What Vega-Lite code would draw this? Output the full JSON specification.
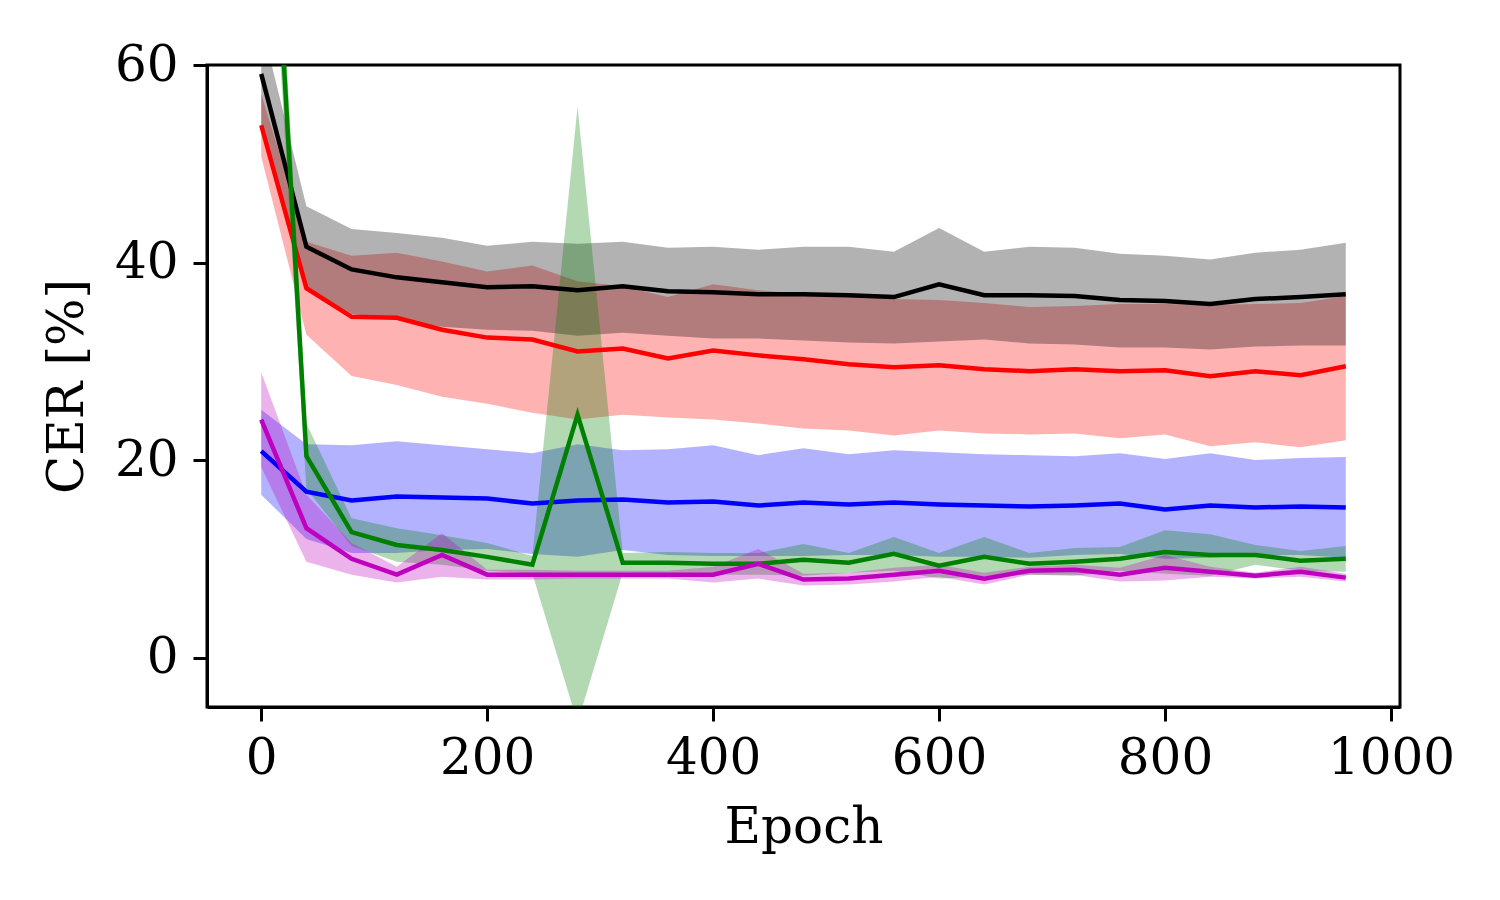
{
  "$schema": "https://vega.github.io/schema/vega-lite/v6.json",
  "width": 1193,
  "height": 642,
  "autosize": {"type": "none"},
  "padding": {"left": 207, "top": 65, "right": 100, "bottom": 193},
  "background": "white",
  "config": {
    "view": {"stroke": "black", "strokeWidth": 3},
    "axis": {
      "domain": true, "domainColor": "black", "domainWidth": 3,
      "ticks": true, "tickColor": "black", "tickWidth": 3, "tickSize": 14,
      "labelFont": "DejaVu Serif", "labelFontSize": 50, "labelColor": "black",
      "titleFont": "DejaVu Serif", "titleFontSize": 50, "titleFontWeight": "normal", "titleColor": "black",
      "grid": false, "labelFlush": false, "labelOverlap": false, "zindex": 1
    },
    "axisX": {"labelPadding": 12, "titlePadding": 19},
    "axisY": {"labelPadding": 15, "titlePadding": 22}
  },
  "data": {"values": [
    {"s":"k","epoch":0,"mean":59.1,"lo":53.9,"hi":64.3},
    {"s":"k","epoch":40,"mean":41.6,"lo":37.3,"hi":45.7},
    {"s":"k","epoch":80,"mean":39.3,"lo":34.8,"hi":43.4},
    {"s":"k","epoch":120,"mean":38.5,"lo":34.2,"hi":43.0},
    {"s":"k","epoch":160,"mean":38.0,"lo":33.5,"hi":42.5},
    {"s":"k","epoch":200,"mean":37.5,"lo":33.2,"hi":41.7},
    {"s":"k","epoch":240,"mean":37.6,"lo":33.1,"hi":42.1},
    {"s":"k","epoch":280,"mean":37.2,"lo":32.6,"hi":41.9},
    {"s":"k","epoch":320,"mean":37.6,"lo":32.9,"hi":42.1},
    {"s":"k","epoch":360,"mean":37.1,"lo":32.6,"hi":41.5},
    {"s":"k","epoch":400,"mean":37.0,"lo":32.3,"hi":41.6},
    {"s":"k","epoch":440,"mean":36.8,"lo":32.3,"hi":41.3},
    {"s":"k","epoch":480,"mean":36.8,"lo":32.1,"hi":41.6},
    {"s":"k","epoch":520,"mean":36.7,"lo":31.9,"hi":41.6},
    {"s":"k","epoch":560,"mean":36.5,"lo":31.8,"hi":41.1},
    {"s":"k","epoch":600,"mean":37.8,"lo":32.0,"hi":43.5},
    {"s":"k","epoch":640,"mean":36.7,"lo":32.2,"hi":41.1},
    {"s":"k","epoch":680,"mean":36.7,"lo":31.8,"hi":41.6},
    {"s":"k","epoch":720,"mean":36.6,"lo":31.7,"hi":41.5},
    {"s":"k","epoch":760,"mean":36.2,"lo":31.4,"hi":40.9},
    {"s":"k","epoch":800,"mean":36.1,"lo":31.4,"hi":40.7},
    {"s":"k","epoch":840,"mean":35.8,"lo":31.2,"hi":40.3},
    {"s":"k","epoch":880,"mean":36.3,"lo":31.5,"hi":41.0},
    {"s":"k","epoch":920,"mean":36.5,"lo":31.6,"hi":41.3},
    {"s":"k","epoch":960,"mean":36.8,"lo":31.6,"hi":42.0},
    {"s":"r","epoch":0,"mean":53.9,"lo":50.7,"hi":57.1},
    {"s":"r","epoch":40,"mean":37.4,"lo":32.7,"hi":42.1},
    {"s":"r","epoch":80,"mean":34.5,"lo":28.5,"hi":40.7},
    {"s":"r","epoch":120,"mean":34.4,"lo":27.6,"hi":41.0},
    {"s":"r","epoch":160,"mean":33.2,"lo":26.4,"hi":40.1},
    {"s":"r","epoch":200,"mean":32.4,"lo":25.7,"hi":39.1},
    {"s":"r","epoch":240,"mean":32.2,"lo":24.8,"hi":39.7},
    {"s":"r","epoch":280,"mean":31.0,"lo":24.1,"hi":38.1},
    {"s":"r","epoch":320,"mean":31.3,"lo":24.6,"hi":37.6},
    {"s":"r","epoch":360,"mean":30.3,"lo":24.3,"hi":36.5},
    {"s":"r","epoch":400,"mean":31.1,"lo":24.1,"hi":37.8},
    {"s":"r","epoch":440,"mean":30.6,"lo":23.7,"hi":37.2},
    {"s":"r","epoch":480,"mean":30.2,"lo":23.2,"hi":36.8},
    {"s":"r","epoch":520,"mean":29.7,"lo":23.0,"hi":36.6},
    {"s":"r","epoch":560,"mean":29.4,"lo":22.5,"hi":36.3},
    {"s":"r","epoch":600,"mean":29.6,"lo":23.0,"hi":36.2},
    {"s":"r","epoch":640,"mean":29.2,"lo":22.7,"hi":35.9},
    {"s":"r","epoch":680,"mean":29.0,"lo":22.6,"hi":35.5},
    {"s":"r","epoch":720,"mean":29.2,"lo":22.7,"hi":35.6},
    {"s":"r","epoch":760,"mean":29.0,"lo":22.2,"hi":35.8},
    {"s":"r","epoch":800,"mean":29.1,"lo":22.6,"hi":35.8},
    {"s":"r","epoch":840,"mean":28.5,"lo":21.4,"hi":35.7},
    {"s":"r","epoch":880,"mean":29.0,"lo":21.8,"hi":35.8},
    {"s":"r","epoch":920,"mean":28.6,"lo":21.3,"hi":35.9},
    {"s":"r","epoch":960,"mean":29.5,"lo":22.0,"hi":36.6},
    {"s":"b","epoch":0,"mean":20.9,"lo":16.5,"hi":25.1},
    {"s":"b","epoch":40,"mean":16.8,"lo":12.0,"hi":21.6},
    {"s":"b","epoch":80,"mean":15.9,"lo":10.6,"hi":21.5},
    {"s":"b","epoch":120,"mean":16.3,"lo":10.6,"hi":21.9},
    {"s":"b","epoch":160,"mean":16.2,"lo":10.9,"hi":21.5},
    {"s":"b","epoch":200,"mean":16.1,"lo":11.0,"hi":21.1},
    {"s":"b","epoch":240,"mean":15.6,"lo":10.5,"hi":20.7},
    {"s":"b","epoch":280,"mean":15.9,"lo":10.2,"hi":21.6},
    {"s":"b","epoch":320,"mean":16.0,"lo":10.9,"hi":21.0},
    {"s":"b","epoch":360,"mean":15.7,"lo":10.4,"hi":21.1},
    {"s":"b","epoch":400,"mean":15.8,"lo":10.3,"hi":21.5},
    {"s":"b","epoch":440,"mean":15.4,"lo":10.3,"hi":20.5},
    {"s":"b","epoch":480,"mean":15.7,"lo":10.3,"hi":21.2},
    {"s":"b","epoch":520,"mean":15.5,"lo":10.4,"hi":20.6},
    {"s":"b","epoch":560,"mean":15.7,"lo":10.4,"hi":21.0},
    {"s":"b","epoch":600,"mean":15.5,"lo":10.2,"hi":20.8},
    {"s":"b","epoch":640,"mean":15.4,"lo":10.2,"hi":20.6},
    {"s":"b","epoch":680,"mean":15.3,"lo":10.1,"hi":20.5},
    {"s":"b","epoch":720,"mean":15.4,"lo":10.4,"hi":20.4},
    {"s":"b","epoch":760,"mean":15.6,"lo":10.5,"hi":20.7},
    {"s":"b","epoch":800,"mean":15.0,"lo":10.0,"hi":20.1},
    {"s":"b","epoch":840,"mean":15.4,"lo":10.1,"hi":20.7},
    {"s":"b","epoch":880,"mean":15.2,"lo":10.4,"hi":20.0},
    {"s":"b","epoch":920,"mean":15.3,"lo":10.4,"hi":20.2},
    {"s":"b","epoch":960,"mean":15.2,"lo":10.1,"hi":20.3},
    {"s":"g","epoch":0,"mean":100.0,"lo":92.0,"hi":108.0},
    {"s":"g","epoch":40,"mean":20.4,"lo":17.1,"hi":23.7},
    {"s":"g","epoch":80,"mean":12.7,"lo":11.3,"hi":14.1},
    {"s":"g","epoch":120,"mean":11.4,"lo":9.7,"hi":13.1},
    {"s":"g","epoch":160,"mean":10.9,"lo":9.4,"hi":12.4},
    {"s":"g","epoch":200,"mean":10.2,"lo":8.8,"hi":11.6},
    {"s":"g","epoch":240,"mean":9.4,"lo":8.5,"hi":10.3},
    {"s":"g","epoch":280,"mean":24.6,"lo":-6.6,"hi":55.8},
    {"s":"g","epoch":320,"mean":9.6,"lo":8.6,"hi":10.6},
    {"s":"g","epoch":360,"mean":9.6,"lo":8.5,"hi":10.7},
    {"s":"g","epoch":400,"mean":9.5,"lo":8.4,"hi":10.6},
    {"s":"g","epoch":440,"mean":9.5,"lo":8.4,"hi":10.6},
    {"s":"g","epoch":480,"mean":9.9,"lo":8.3,"hi":11.5},
    {"s":"g","epoch":520,"mean":9.6,"lo":8.6,"hi":10.6},
    {"s":"g","epoch":560,"mean":10.5,"lo":8.8,"hi":12.2},
    {"s":"g","epoch":600,"mean":9.3,"lo":8.0,"hi":10.6},
    {"s":"g","epoch":640,"mean":10.2,"lo":8.2,"hi":12.2},
    {"s":"g","epoch":680,"mean":9.5,"lo":8.4,"hi":10.6},
    {"s":"g","epoch":720,"mean":9.7,"lo":8.3,"hi":11.1},
    {"s":"g","epoch":760,"mean":10.0,"lo":8.8,"hi":11.2},
    {"s":"g","epoch":800,"mean":10.7,"lo":8.5,"hi":12.9},
    {"s":"g","epoch":840,"mean":10.4,"lo":8.3,"hi":12.5},
    {"s":"g","epoch":880,"mean":10.4,"lo":9.4,"hi":11.4},
    {"s":"g","epoch":920,"mean":9.8,"lo":8.8,"hi":10.8},
    {"s":"g","epoch":960,"mean":10.0,"lo":8.7,"hi":11.3},
    {"s":"m","epoch":0,"mean":24.1,"lo":19.3,"hi":28.9},
    {"s":"m","epoch":40,"mean":13.1,"lo":9.7,"hi":16.5},
    {"s":"m","epoch":80,"mean":10.0,"lo":8.4,"hi":11.6},
    {"s":"m","epoch":120,"mean":8.4,"lo":7.6,"hi":9.2},
    {"s":"m","epoch":160,"mean":10.4,"lo":8.2,"hi":12.6},
    {"s":"m","epoch":200,"mean":8.4,"lo":7.9,"hi":8.9},
    {"s":"m","epoch":240,"mean":8.4,"lo":7.9,"hi":8.9},
    {"s":"m","epoch":280,"mean":8.4,"lo":8.0,"hi":8.8},
    {"s":"m","epoch":320,"mean":8.4,"lo":8.0,"hi":8.8},
    {"s":"m","epoch":360,"mean":8.4,"lo":8.0,"hi":8.8},
    {"s":"m","epoch":400,"mean":8.4,"lo":7.6,"hi":9.2},
    {"s":"m","epoch":440,"mean":9.5,"lo":8.0,"hi":11.0},
    {"s":"m","epoch":480,"mean":7.9,"lo":7.3,"hi":8.5},
    {"s":"m","epoch":520,"mean":8.0,"lo":7.4,"hi":8.6},
    {"s":"m","epoch":560,"mean":8.4,"lo":7.7,"hi":9.1},
    {"s":"m","epoch":600,"mean":8.8,"lo":8.2,"hi":9.4},
    {"s":"m","epoch":640,"mean":8.0,"lo":7.4,"hi":8.6},
    {"s":"m","epoch":680,"mean":8.8,"lo":8.4,"hi":9.2},
    {"s":"m","epoch":720,"mean":8.9,"lo":8.4,"hi":9.4},
    {"s":"m","epoch":760,"mean":8.4,"lo":7.7,"hi":9.1},
    {"s":"m","epoch":800,"mean":9.1,"lo":7.8,"hi":10.4},
    {"s":"m","epoch":840,"mean":8.7,"lo":8.2,"hi":9.2},
    {"s":"m","epoch":880,"mean":8.3,"lo":8.0,"hi":8.6},
    {"s":"m","epoch":920,"mean":8.7,"lo":8.2,"hi":9.2},
    {"s":"m","epoch":960,"mean":8.1,"lo":7.7,"hi":8.5}
  ]},
  "encoding": {
    "x": {"field": "epoch", "type": "quantitative",
      "scale": {"domain": [-48, 1008], "nice": false, "zero": false},
      "axis": {"values": [0, 200, 400, 600, 800, 1000], "format": "d", "title": "Epoch"}}
  },
  "layer": [
    {"transform": [{"filter": "datum.s === 'r'"}], "mark": {"type": "area", "color": "#ff0000", "opacity": 0.3, "clip": true},
     "encoding": {"y": {"field": "lo", "type": "quantitative", "scale": {"domain": [-5, 60], "nice": false, "zero": false}, "axis": {"values": [0, 20, 40, 60], "format": "d", "title": "CER [%]"}}, "y2": {"field": "hi"}}},
    {"transform": [{"filter": "datum.s === 'k'"}], "mark": {"type": "area", "color": "#000000", "opacity": 0.3, "clip": true},
     "encoding": {"y": {"field": "lo", "type": "quantitative", "axis": {"values": [0, 20, 40, 60], "format": "d", "title": "CER [%]"}}, "y2": {"field": "hi"}}},
    {"transform": [{"filter": "datum.s === 'b'"}], "mark": {"type": "area", "color": "#0000ff", "opacity": 0.3, "clip": true},
     "encoding": {"y": {"field": "lo", "type": "quantitative", "axis": {"values": [0, 20, 40, 60], "format": "d", "title": "CER [%]"}}, "y2": {"field": "hi"}}},
    {"transform": [{"filter": "datum.s === 'g'"}], "mark": {"type": "area", "color": "#008000", "opacity": 0.3, "clip": true},
     "encoding": {"y": {"field": "lo", "type": "quantitative", "axis": {"values": [0, 20, 40, 60], "format": "d", "title": "CER [%]"}}, "y2": {"field": "hi"}}},
    {"transform": [{"filter": "datum.s === 'm'"}], "mark": {"type": "area", "color": "#bf00bf", "opacity": 0.3, "clip": true},
     "encoding": {"y": {"field": "lo", "type": "quantitative", "axis": {"values": [0, 20, 40, 60], "format": "d", "title": "CER [%]"}}, "y2": {"field": "hi"}}},
    {"transform": [{"filter": "datum.s === 'k'"}], "mark": {"type": "line", "color": "#000000", "strokeWidth": 4.5, "clip": true},
     "encoding": {"y": {"field": "mean", "type": "quantitative", "axis": {"values": [0, 20, 40, 60], "format": "d", "title": "CER [%]"}}}},
    {"transform": [{"filter": "datum.s === 'r'"}], "mark": {"type": "line", "color": "#ff0000", "strokeWidth": 4.5, "clip": true},
     "encoding": {"y": {"field": "mean", "type": "quantitative", "axis": {"values": [0, 20, 40, 60], "format": "d", "title": "CER [%]"}}}},
    {"transform": [{"filter": "datum.s === 'b'"}], "mark": {"type": "line", "color": "#0000ff", "strokeWidth": 4.5, "clip": true},
     "encoding": {"y": {"field": "mean", "type": "quantitative", "axis": {"values": [0, 20, 40, 60], "format": "d", "title": "CER [%]"}}}},
    {"transform": [{"filter": "datum.s === 'g'"}], "mark": {"type": "line", "color": "#008000", "strokeWidth": 4.5, "clip": true},
     "encoding": {"y": {"field": "mean", "type": "quantitative", "axis": {"values": [0, 20, 40, 60], "format": "d", "title": "CER [%]"}}}},
    {"transform": [{"filter": "datum.s === 'm'"}], "mark": {"type": "line", "color": "#bf00bf", "strokeWidth": 4.5, "clip": true},
     "encoding": {"y": {"field": "mean", "type": "quantitative", "axis": {"values": [0, 20, 40, 60], "format": "d", "title": "CER [%]"}}}}
  ]
}
